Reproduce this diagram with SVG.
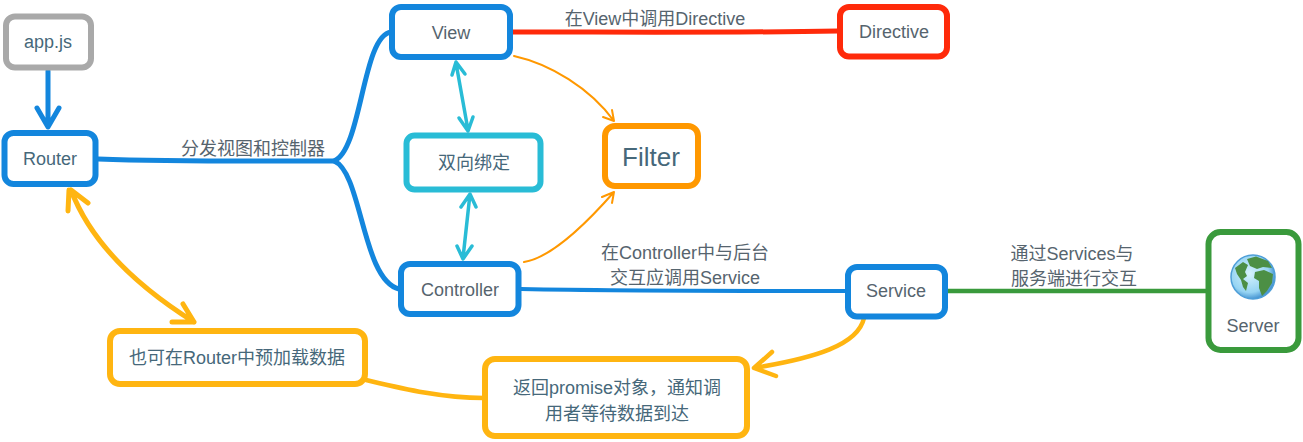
<svg xmlns="http://www.w3.org/2000/svg" width="1303" height="442" viewBox="0 0 1303 442">
<style>
.n{fill:#fff;stroke-width:6}
.c{fill:none;stroke-linecap:round;stroke-linejoin:round}
.t{font-family:"Liberation Sans","Noto Sans CJK SC",sans-serif;font-size:18px;fill:#46687a;text-anchor:middle}
.l{fill:#56646e}
.blue{stroke:#1386dd}.gray{stroke:#a9a9a9}.red{stroke:#ff2a0a}.cyan{stroke:#29bcd6}.orange{stroke:#ff9800}.yellow{stroke:#ffb511}.green{stroke:#3a9a3c}
</style>
<defs>
<radialGradient id="sea" cx="0.42" cy="0.42" r="0.6"><stop offset="0" stop-color="#d6f2fd"/><stop offset="0.72" stop-color="#96d4f3"/><stop offset="1" stop-color="#3f8fcf"/></radialGradient>
</defs>
<g id="connectors">
<path class="c blue" stroke-width="5" d="M48 71V125M37 108L48 127L59 108"/>
<path class="c blue" stroke-width="5" d="M98 159C180 162 260 161 334 161C362 150 362 36 391 32"/>
<path class="c blue" stroke-width="5" d="M334 161C362 172 362 280 399 289"/>
<path class="c red" stroke-width="5" d="M511 32C620 32 730 33 838 31"/>
<path class="c orange" stroke-width="2" d="M514 56C550 64 590 88 614 121M603 117L614 121L612 110"/>
<path class="c orange" stroke-width="2" d="M524 262C550 258 585 225 614 192M602 197L614 192L612 203"/>
<path class="c cyan" stroke-width="3.500" d="M456 63L468 130M452 75L456 62L465 74M459 118L468 131L473 117"/>
<path class="c cyan" stroke-width="3.500" d="M470 194L463 258M461 207L470 194L476 207M457 246L463 259L472 246"/>
<path class="c blue" stroke-width="4" d="M521 289C630 291 740 291 846 291"/>
<path class="c green" stroke-width="4.500" d="M947 291L1207 291"/>
<path class="c yellow" stroke-width="4.500" d="M864 318C858 345 815 358 754 368M772 352L754 368L776 376"/>
<path class="c yellow" stroke-width="4.500" d="M484 398C440 398 400 388 366 380"/>
<path class="c yellow" stroke-width="5" d="M71 190C90 240 135 285 194 322M69 190L68 211M71 190L88 203M194 322L172 322M194 322L183 304"/>
</g>
<g id="appjs"><rect class="n gray" x="6" y="16.500" width="85" height="51" rx="9"/><text class="t" x="48" y="48">app.js</text></g>
<g id="router"><rect class="n blue" x="4.500" y="133" width="91" height="51" rx="9"/><text class="t" x="50" y="165">Router</text></g>
<g id="view"><rect class="n blue" x="392" y="7" width="118" height="50" rx="9"/><text class="t l" x="451" y="39">View</text></g>
<g id="binding"><rect class="n cyan" stroke-width="5" x="406.500" y="135.500" width="134" height="54" rx="8"/><text class="t" x="474" y="169">双向绑定</text></g>
<g id="filter"><rect class="n orange" x="605" y="126" width="93" height="60" rx="10"/><text class="t" style="font-size:26px" x="651" y="166">Filter</text></g>
<g id="directive"><rect class="n red" x="840" y="7" width="107" height="49.500" rx="9"/><text class="t l" x="894" y="38">Directive</text></g>
<g id="controller"><rect class="n blue" x="401" y="264" width="117.500" height="50" rx="9"/><text class="t l" x="460" y="296">Controller</text></g>
<g id="service"><rect class="n blue" x="848" y="267" width="97" height="49.500" rx="9"/><text class="t l" x="896" y="297">Service</text></g>
<g id="server"><rect class="n green" x="1208.500" y="232" width="90" height="118" rx="12"/>
<circle cx="1253" cy="277" r="22" fill="url(#sea)" stroke="#4f9fd8" stroke-width="1.500"/>
<path fill="#4c8f45" d="M1247 259L1256 256.500L1268 261L1272 268L1263 267L1257 269L1250 266ZM1255 272L1264 270L1273 274L1272 283L1267 291L1262 296L1259 288L1259 281L1254 278ZM1235 268L1243 262L1248 265L1245 272L1247 276L1243 279L1248 283L1246 291L1243 287L1241 280L1237 274Z"/>
<text class="t l" x="1253" y="332">Server</text></g>
<g id="preload"><rect class="n yellow" x="110" y="331" width="255" height="53" rx="10"/><text class="t" x="237" y="364">也可在Router中预加载数据</text></g>
<g id="promise"><rect class="n yellow" x="485" y="359" width="262" height="77" rx="10"/><text class="t" x="617" y="394">返回promise对象，通知调</text><text class="t" x="617" y="420">用者等待数据到达</text></g>
<g id="labels">
<text class="t l" x="253" y="155">分发视图和控制器</text>
<text class="t l" x="655" y="25">在View中调用Directive</text>
<text class="t l" x="685" y="259">在Controller中与后台</text>
<text class="t l" x="685" y="284">交互应调用Service</text>
<text class="t l" x="1072" y="260">通过Services与</text>
<text class="t l" x="1074" y="285">服务端进行交互</text>
</g>
</svg>
